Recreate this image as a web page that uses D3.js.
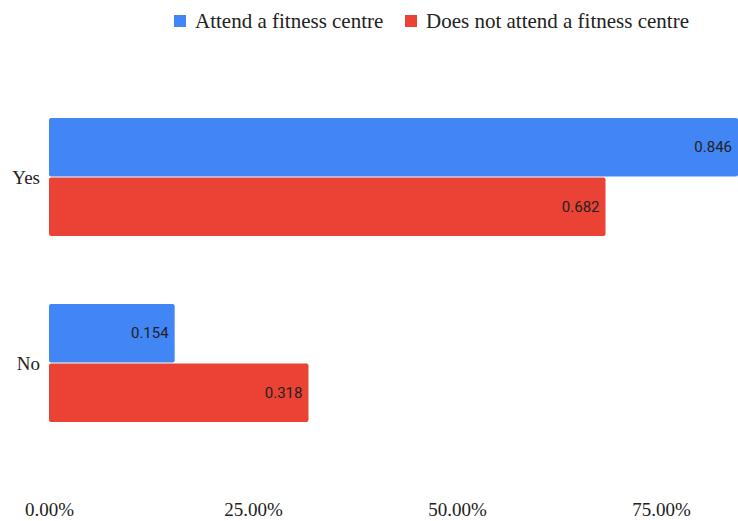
<!DOCTYPE html>
<html>
<head>
<meta charset="utf-8">
<script src="https://cdn.jsdelivr.net/npm/d3@7"></script>
<style>
  html, body { margin: 0; padding: 0; background: #fff; }
  svg { display: block; }
</style>
</head>
<body>
<svg id="chart" width="738" height="521"></svg>
<script>
// Share of people in each group, by answer
const categories = ["Yes", "No"];
const seriesNames = ["Attend a fitness centre", "Does not attend a fitness centre"];
const attendValues = [0.846, 0.154];
const notAttendValues = [0.682, 0.318];
const tickValues = [0, 0.25, 0.5, 0.75];
const tickLabels = ["0.00%", "25.00%", "50.00%", "75.00%"];
const colors = ["#4285f4", "#ea4335"];

const svg = d3.select("#chart");
const serif = "'Liberation Serif', 'DejaVu Serif', serif";
const sans = "Roboto, 'Noto Sans', sans-serif";

const series = [attendValues, notAttendValues];

const x = d3.scaleLinear().domain([0, 1]).range([49, 865]);
const y = d3.scaleBand().domain(categories).range([84, 456]).paddingInner(0).paddingOuter(0);
const barBand = d3.scaleBand().domain(d3.range(series.length)).range([34, 152]).paddingInner(0.017);

// Bars
const groups = svg.append("g").selectAll("g")
  .data(categories)
  .join("g")
  .attr("transform", d => `translate(0,${y(d)})`);

groups.each(function(cat, ci) {
  const g = d3.select(this);
  series.forEach((vals, si) => {
    const v = vals[ci];
    const x1 = Math.min(x(v), 738);
    g.append("rect")
      .attr("x", x(0))
      .attr("y", barBand(si))
      .attr("width", x1 - x(0))
      .attr("height", barBand.bandwidth())
      .attr("rx", 2)
      .attr("fill", colors[si]);
    g.append("text")
      .attr("x", x1 - 6)
      .attr("y", barBand(si) + barBand.bandwidth() / 2)
      .attr("dy", "0.35em")
      .attr("text-anchor", "end")
      .attr("font-family", sans)
      .attr("font-size", 15)
      .attr("fill", "#222")
      .text(v);
  });
});

// Category axis
svg.append("g").selectAll("text")
  .data(categories)
  .join("text")
  .attr("x", 40)
  .attr("y", d => y(d) + y.bandwidth() / 2)
  .attr("dy", "0.35em")
  .attr("text-anchor", "end")
  .attr("font-family", serif)
  .attr("font-size", 19)
  .attr("fill", "#222")
  .text(d => d);

// Value axis
const xAxis = d3.axisBottom(x)
  .tickValues(tickValues)
  .tickFormat((d, i) => tickLabels[i])
  .tickSize(0)
  .tickPadding(0);
const ax = svg.append("g").attr("transform", "translate(0,502)").call(xAxis);
ax.select(".domain").remove();
ax.selectAll("text")
  .attr("font-family", serif)
  .attr("font-size", 19)
  .attr("fill", "#222");

// Legend
const legendX = [174, 405];
const legend = svg.append("g").selectAll("g")
  .data(seriesNames)
  .join("g")
  .attr("transform", (d, i) => `translate(${legendX[i]},15)`);
legend.append("rect")
  .attr("width", 12).attr("height", 12)
  .attr("fill", (d, i) => colors[i]);
legend.append("text")
  .attr("x", 21)
  .attr("y", 6)
  .attr("dy", "0.35em")
  .attr("font-family", serif)
  .attr("font-size", 21)
  .attr("fill", "#222")
  .text(d => d);
</script>
</body>
</html>
